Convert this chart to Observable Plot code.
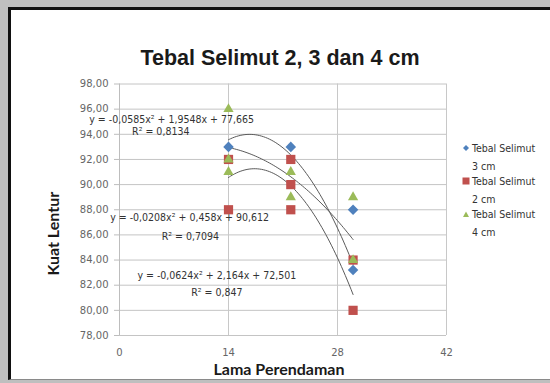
<!DOCTYPE html>
<html>
<head>
<meta charset="utf-8">
<script src="https://cdn.jsdelivr.net/npm/d3@7"></script>
<script src="https://cdn.jsdelivr.net/npm/@observablehq/plot@0.6"></script>
<style>
  html, body { margin: 0; padding: 0; }
  body { width: 550px; height: 383px; overflow: hidden; position: relative; background: #bfbfbf; }
  #frame { position: absolute; left: 8px; top: 7px; width: 600px; height: 369px; background: #fff;
           border-left: 3px solid #111; border-top: 3px solid #111; border-bottom: 1px solid #8a8a8a; }
  #chart { position: absolute; left: 0; top: 0; }
  #legend { position: absolute; left: 462px; top: 0; width: 88px;
            font-family: "Liberation Sans Narrow", "DejaVu Sans Condensed", sans-serif; font-size: 10.5px; color: #333; }
  .item { position: absolute; left: 0; padding-left: 10px; line-height: 18px; white-space: nowrap; }
  .item svg { position: absolute; left: 0; top: 5px; }
</style>
</head>
<body>
<div id="frame"></div>
<div id="chart"></div>
<div id="legend"></div>
<script>
// Lama perendaman (hari) vs kuat lentur, three cover thicknesses
const series = ["Tebal Selimut 3 cm", "Tebal Selimut 2 cm", "Tebal Selimut 4 cm"];
const colors = ["#4F81BD", "#C0504D", "#9BBB59"];

const hari3 = [14, 22, 30, 30];
const kuat3 = [93, 93, 88, 83.2];

const hari2 = [14, 14, 22, 22, 22, 30, 30];
const kuat2 = [92, 88, 92, 90, 88, 84, 80];

const hari4 = [14, 14, 14, 22, 22, 30, 30];
const kuat4 = [96, 92, 91, 91, 89, 89, 84];

// polynomial trendlines (order 2): a, b, c and R²
const fitNames = ["Tebal Selimut 4 cm", "Tebal Selimut 3 cm", "Tebal Selimut 2 cm"];
const fitA = [-0.0585, -0.0208, -0.0624];
const fitB = [1.9548, 0.458, 2.164];
const fitC = [77.665, 90.612, 72.501];
const fitR2 = [0.8134, 0.7094, 0.847];
const fitRange = [14, 30];

const xTicks = [0, 14, 28, 42];
const yTicks = [78, 80, 82, 84, 86, 88, 90, 92, 94, 96, 98];

const comma = v => String(v).replace(".", ",");
const rows = (h, k) => h.map((d, i) => ({hari: d, kuat: k[i]}));

// trendline curves sampled along the fitted range
const curves = [];
fitNames.forEach((name, j) => {
  for (let x = fitRange[0]; x <= fitRange[1] + 1e-9; x += 0.25) {
    curves.push({fit: name, hari: x, kuat: fitA[j] * x * x + fitB[j] * x + fitC[j]});
  }
});

const eqLabels = fitNames.map((name, j) => ({
  fit: name,
  eq: `y = ${comma(fitA[j])}x² + ${comma(fitB[j])}x + ${comma(fitC[j])}`,
  r2: `R² = ${comma(fitR2[j])}`
}));
// where each equation sits, in data units
const eqX = [6.7, 9.0, 12.5];
const eqY = [95.15, 87.4, 82.8];
const r2X = [5.3, 9.1, 12.5];
const r2Y = [94.2, 85.9, 81.4];

const diamond = {
  draw(ctx, size) {
    const r = Math.sqrt(size / 2);
    ctx.moveTo(0, -r); ctx.lineTo(r, 0); ctx.lineTo(0, r); ctx.lineTo(-r, 0); ctx.closePath();
  }
};

const narrow = '"Liberation Sans Narrow", "DejaVu Sans Condensed", sans-serif';
const tickFont = '"DejaVu Sans", sans-serif';
const boldFont = 'Lato, "Open Sans", sans-serif';

const chart = Plot.plot({
  width: 550,
  height: 383,
  marginLeft: 119,
  marginRight: 104,
  marginTop: 83.5,
  marginBottom: 48,
  style: {background: "transparent", overflow: "visible"},
  x: {domain: [0, 42], label: null},
  y: {domain: [78, 98], label: null},
  marks: [
    Plot.ruleY(yTicks, {stroke: "#c4c4c4", strokeWidth: 1}),
    Plot.ruleX(xTicks.slice(1), {stroke: "#c8c8c8", strokeWidth: 1}),
    Plot.ruleX([0], {stroke: "#bdbdbd", strokeWidth: 1}),
    Plot.axisY({ticks: yTicks, tickSize: 5, tickPadding: 6, stroke: "#bdbdbd",
      tickFormat: d => d.toFixed(2).replace(".", ","), fill: "#666", fontSize: 10, fontFamily: tickFont}),
    Plot.axisX({ticks: xTicks, tickSize: 0, tickPadding: 13, fill: "#666", fontSize: 10, fontFamily: tickFont}),
    Plot.line(curves, {x: "hari", y: "kuat", z: "fit", stroke: "#5a5a5a", strokeWidth: 1, curve: "natural"}),
    Plot.dot(rows(hari3, kuat3), {x: "hari", y: "kuat", symbol: diamond, r: 4.2, fill: colors[0]}),
    Plot.dot(rows(hari2, kuat2), {x: "hari", y: "kuat", symbol: "square", r: 5.2, fill: colors[1]}),
    Plot.dot(rows(hari4, kuat4), {x: "hari", y: "kuat", symbol: "triangle", r: 3.8, fill: colors[2]}),
    Plot.text(eqLabels, {x: (d, i) => eqX[i], y: (d, i) => eqY[i], text: "eq",
      fill: "#333", fontSize: 10.5, fontFamily: narrow}),
    Plot.text(eqLabels, {x: (d, i) => r2X[i], y: (d, i) => r2Y[i], text: "r2",
      fill: "#333", fontSize: 10.5, fontFamily: narrow}),
    Plot.text(["Tebal Selimut 2, 3 dan 4 cm"], {frameAnchor: "top", lineAnchor: "middle", dx: -3, dy: -26,
      fontSize: 21.5, fontWeight: "bold", fontFamily: '"Liberation Sans", Arial, sans-serif', fill: "#1a1a1a"}),
    Plot.text(["Lama Perendaman"], {frameAnchor: "bottom", lineAnchor: "middle", dx: -4, dy: 34,
      fontSize: 16, fontWeight: "bold", fontFamily: boldFont, fill: "#1a1a1a"}),
    Plot.text(["Kuat Lentur"], {frameAnchor: "left", textAnchor: "middle", lineAnchor: "middle",
      dx: -66, dy: 24, rotate: -90,
      fontSize: 16, fontWeight: "bold", fontFamily: boldFont, fill: "#1a1a1a"})
  ]
});
document.getElementById("chart").append(chart);

// legend: marker + wrapped two-line label
const legendTops = [139, 172, 205];
const markerSvg = [
  '<svg width="8" height="8"><path d="M4,1L7,4L4,7L1,4Z" fill="' + colors[0] + '"/></svg>',
  '<svg width="8" height="8"><rect x="0.5" y="0.5" width="7" height="7" fill="' + colors[1] + '"/></svg>',
  '<svg width="8" height="8"><path d="M4,1.5L7,7L1,7Z" fill="' + colors[2] + '"/></svg>'
];
const legend = document.getElementById("legend");
series.forEach((name, i) => {
  const item = document.createElement("div");
  item.className = "item";
  item.style.top = legendTops[i] + "px";
  const words = name.split(" ");
  item.innerHTML = markerSvg[i] + words.slice(0, 2).join(" ") + "<br>" + words.slice(2).join(" ");
  legend.append(item);
});
</script>
</body>
</html>
